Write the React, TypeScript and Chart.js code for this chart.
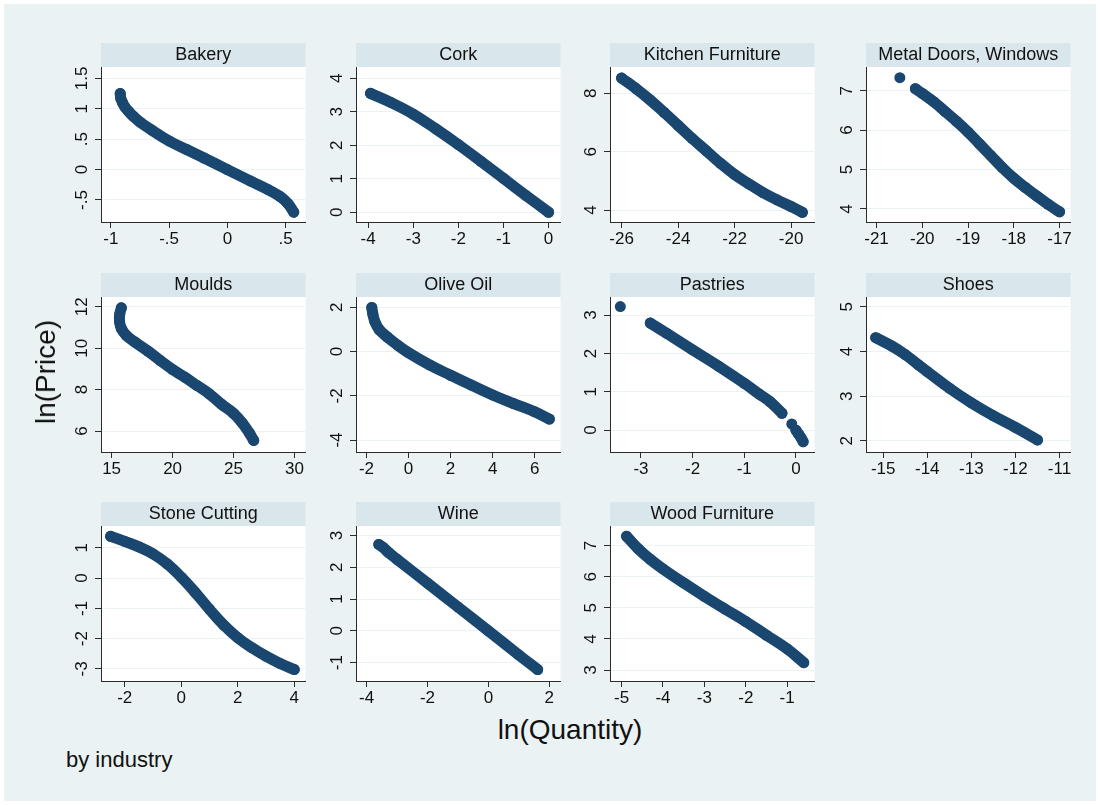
import React, { useEffect, useRef } from 'react';
import { Chart, registerables } from 'chart.js';

Chart.register(...registerables);

const FONT = "'Liberation Sans', Arial, Helvetica, sans-serif";
const NAVY = '#1A476F';
const STRIP_BG = '#D9E6EB';
const PAGE_BG = '#EAF2F3';
const AXIS = '#2b2b2b';

// ---------- data (ln Quantity = x, ln Price = y) ----------
const bakeryQ = [-0.92, -0.915, -0.9, -0.88, -0.85, -0.81, -0.75, -0.65, -0.5, -0.35, -0.2, 0, 0.2, 0.35, 0.45, 0.52, 0.57];
const bakeryP = [1.25, 1.17, 1.1, 1.03, 0.96, 0.88, 0.78, 0.65, 0.47, 0.33, 0.19, 0.0, -0.19, -0.33, -0.44, -0.56, -0.7];

const corkQ = [-3.95, -3.5, -3.0, -2.5, -2.0, -1.5, -1.0, -0.5, 0.0];
const corkP = [3.55, 3.28, 2.93, 2.49, 2.02, 1.52, 1.01, 0.5, 0.0];

const kitchenQ = [-26, -25.5, -25, -24.5, -24, -23.5, -23, -22.5, -22, -21.5, -21, -20.5, -20, -19.6];
const kitchenP = [8.52, 8.17, 7.78, 7.35, 6.9, 6.45, 6.03, 5.6, 5.22, 4.9, 4.6, 4.35, 4.12, 3.92];

const metalQ = [-20.15, -20, -19.75, -19.5, -19.25, -19, -18.75, -18.5, -18.25, -18, -17.75, -17.5, -17.25, -17];
const metalP = [7.05, 6.93, 6.72, 6.47, 6.22, 5.95, 5.65, 5.35, 5.05, 4.78, 4.55, 4.33, 4.12, 3.93];
const metalOutQ = [-20.49];
const metalOutP = [7.33];

const mouldsQ = [15.8, 15.66, 15.65, 15.8, 16.2, 16.9, 18, 19, 20, 21, 22, 23, 24, 25, 25.7, 26.3, 26.65];
const mouldsP = [11.95, 11.62, 11.28, 10.95, 10.62, 10.3, 9.85, 9.4, 8.97, 8.6, 8.2, 7.8, 7.3, 6.85, 6.4, 5.9, 5.55];

const oliveQ = [-1.75, -1.7, -1.6, -1.4, -1.0, -0.5, 0, 1, 2, 3, 4, 5, 6, 6.7];
const oliveP = [2.0, 1.7, 1.35, 1.0, 0.65, 0.28, -0.05, -0.6, -1.07, -1.52, -1.96, -2.35, -2.72, -3.05];

const pastriesQ = [-2.82, -2.5, -2.0, -1.5, -1.0, -0.7, -0.5, -0.27];
const pastriesP = [2.79, 2.52, 2.09, 1.67, 1.22, 0.93, 0.74, 0.44];
const pastriesOutQ = [-3.4, -0.08];
const pastriesOutP = [3.22, 0.16];
const pastriesTailQ = [0.0, 0.05, 0.1, 0.14];
const pastriesTailP = [0.0, -0.1, -0.2, -0.3];

const shoesQ = [-15.17, -14.8, -14.5, -14.2, -14, -13.5, -13, -12.5, -12, -11.5];
const shoesP = [4.31, 4.12, 3.93, 3.7, 3.55, 3.18, 2.85, 2.56, 2.3, 2.02];

const stoneQ = [-2.5, -2, -1.5, -1, -0.5, 0, 0.5, 1, 1.5, 2, 2.5, 3, 3.5, 4];
const stoneP = [1.38, 1.21, 1.03, 0.8, 0.47, 0.03, -0.48, -1.03, -1.55, -1.97, -2.3, -2.58, -2.82, -3.02];

const wineQ = [-3.6, -3.45, -3.3, -3, -2, -1, 0, 1, 1.62];
const wineP = [2.72, 2.62, 2.48, 2.25, 1.5, 0.75, 0, -0.76, -1.22];

const woodQ = [-4.88, -4.6, -4.3, -4, -3.5, -3, -2.5, -2, -1.5, -1, -0.6];
const woodP = [7.3, 6.9, 6.55, 6.25, 5.8, 5.37, 4.96, 4.56, 4.12, 3.68, 3.24];

// ---------- panel titles, ticks, ranges ----------
const titles = ['Bakery', 'Cork', 'Kitchen Furniture', 'Metal Doors, Windows', 'Moulds', 'Olive Oil', 'Pastries', 'Shoes', 'Stone Cutting', 'Wine', 'Wood Furniture'];

const xTicks = [
  [-1, -0.5, 0, 0.5], [-4, -3, -2, -1, 0], [-26, -24, -22, -20], [-21, -20, -19, -18, -17],
  [15, 20, 25, 30], [-2, 0, 2, 4, 6], [-3, -2, -1, 0], [-15, -14, -13, -12, -11],
  [-2, 0, 2, 4], [-4, -2, 0, 2], [-5, -4, -3, -2, -1],
];
const yTicks = [
  [-0.5, 0, 0.5, 1, 1.5], [0, 1, 2, 3, 4], [4, 6, 8], [4, 5, 6, 7],
  [6, 8, 10, 12], [-4, -2, 0, 2], [0, 1, 2, 3], [2, 3, 4, 5],
  [-3, -2, -1, 0, 1], [-1, 0, 1, 2, 3], [3, 4, 5, 6, 7],
];
const xRanges = [
  [-1.085, 0.671], [-4.27, 0.264], [-26.41, -19.17], [-21.23, -16.76],
  [14.13, 30.9], [-2.5, 7.23], [-3.6, 0.36], [-15.39, -10.75],
  [-2.84, 4.4], [-4.35, 2.37], [-5.28, -0.34],
];
const yRanges = [
  [-0.862, 1.686], [-0.29, 4.337], [3.59, 8.9], [3.67, 7.6],
  [4.99, 12.47], [-4.54, 2.47], [-0.57, 3.47], [1.75, 5.22],
  [-3.4, 1.72], [-1.58, 3.3], [2.65, 7.63],
];

type Series = { q: number[]; p: number[]; line: boolean };
const seriesList: Series[][] = [
  [{ q: bakeryQ, p: bakeryP, line: true }],
  [{ q: corkQ, p: corkP, line: true }],
  [{ q: kitchenQ, p: kitchenP, line: true }],
  [{ q: metalQ, p: metalP, line: true }, { q: metalOutQ, p: metalOutP, line: false }],
  [{ q: mouldsQ, p: mouldsP, line: true }],
  [{ q: oliveQ, p: oliveP, line: true }],
  [
    { q: pastriesQ, p: pastriesP, line: true },
    { q: pastriesOutQ, p: pastriesOutP, line: false },
    { q: pastriesTailQ, p: pastriesTailP, line: true },
  ],
  [{ q: shoesQ, p: shoesP, line: true }],
  [{ q: stoneQ, p: stoneP, line: true }],
  [{ q: wineQ, p: wineP, line: true }],
  [{ q: woodQ, p: woodP, line: true }],
];

// ---------- layout ----------
const colLeft = [101, 356, 610, 866];
const rowTop = [67, 297, 526];
const PLOT_W = 206;
const PLOT_H = 155;
const STRIP = 24;
const Y_AXIS_W = 45;
const X_AXIS_H = 32;
const RIGHT_PAD = 4;
const CANVAS_W = Y_AXIS_W + PLOT_W + RIGHT_PAD;
const CANVAS_H = STRIP + PLOT_H + X_AXIS_H;

const fmt = (v: number) => {
  const s = String(Math.round(v * 1000) / 1000);
  return s.replace(/^(-?)0\./, '$1.');
};

const decorPlugin = {
  id: 'panelDecor',
  beforeDraw(chart: any, _args: any, opts: any) {
    const { ctx, chartArea: a } = chart;
    ctx.save();
    ctx.fillStyle = '#ffffff';
    ctx.fillRect(a.left, a.top, a.right - a.left, a.bottom - a.top);
    ctx.fillStyle = STRIP_BG;
    ctx.fillRect(a.left, a.top - STRIP, a.right - a.left, STRIP);
    ctx.fillStyle = '#111';
    ctx.font = `18px ${FONT}`;
    ctx.textAlign = 'center';
    ctx.textBaseline = 'alphabetic';
    ctx.fillText(opts.title, (a.left + a.right) / 2, a.top - STRIP + 16.5);
    ctx.restore();
  },
  afterDraw(chart: any) {
    const { ctx, chartArea: a } = chart;
    const ys = chart.scales.y;
    ctx.save();
    ctx.fillStyle = '#111';
    ctx.font = `17px ${FONT}`;
    ctx.textAlign = 'center';
    ctx.textBaseline = 'alphabetic';
    ys.ticks.forEach((t: any) => {
      const y = ys.getPixelForValue(t.value);
      ctx.save();
      ctx.translate(a.left - 14, y);
      ctx.rotate(-Math.PI / 2);
      ctx.fillText(fmt(t.value), 0, 0);
      ctx.restore();
    });
    ctx.restore();
  },
};

function Panel({ idx }: { idx: number }) {
  const ref = useRef<HTMLCanvasElement>(null);
  const col = idx % 4;
  const row = Math.floor(idx / 4);
  useEffect(() => {
    const xt = xTicks[idx];
    const yt = yTicks[idx];
    const chart = new Chart(ref.current as HTMLCanvasElement, {
      type: 'scatter',
      data: {
        datasets: seriesList[idx].map((s) => ({
          data: s.q.map((x, i) => ({ x, y: s.p[i] })),
          showLine: s.line,
          borderColor: NAVY,
          backgroundColor: NAVY,
          borderWidth: 11,
          borderCapStyle: 'round',
          borderJoinStyle: 'round',
          tension: 0.4,
          pointRadius: 5.5,
          pointBorderWidth: 0,
          pointHoverRadius: 5.5,
          clip: 8,
        })),
      },
      options: {
        responsive: false,
        animation: false,
        devicePixelRatio: 1,
        events: [],
        layout: { padding: { top: STRIP, right: RIGHT_PAD, left: 0, bottom: 0 } },
        plugins: {
          legend: { display: false },
          tooltip: { enabled: false },
          title: { display: false },
          panelDecor: { title: titles[idx] },
        } as any,
        scales: {
          x: {
            type: 'linear',
            min: xRanges[idx][0],
            max: xRanges[idx][1],
            afterBuildTicks: (sc: any) => {
              sc.ticks = xt.map((v) => ({ value: v }));
            },
            afterFit: (sc: any) => {
              sc.height = X_AXIS_H;
            },
            ticks: {
              autoSkip: false,
              maxRotation: 0,
              minRotation: 0,
              padding: 1,
              color: '#111',
              font: { size: 17, family: FONT },
              callback: (v: any) => fmt(Number(v)),
            },
            grid: {
              drawOnChartArea: false,
              drawTicks: true,
              tickLength: 6,
              tickColor: AXIS,
              color: AXIS,
            },
            border: { display: true, color: AXIS, width: 1 },
          },
          y: {
            type: 'linear',
            min: yRanges[idx][0],
            max: yRanges[idx][1],
            afterBuildTicks: (sc: any) => {
              sc.ticks = yt.map((v) => ({ value: v }));
            },
            afterFit: (sc: any) => {
              sc.width = Y_AXIS_W;
            },
            ticks: { display: false },
            grid: {
              drawOnChartArea: true,
              drawTicks: true,
              tickLength: 6,
              tickColor: AXIS,
              color: PAGE_BG,
              lineWidth: 1,
            },
            border: { display: true, color: AXIS, width: 1 },
          },
        },
      } as any,
      plugins: [decorPlugin as any],
    });
    return () => chart.destroy();
  }, [idx]);
  return (
    <canvas
      ref={ref}
      width={CANVAS_W}
      height={CANVAS_H}
      style={{
        position: 'absolute',
        left: colLeft[col] - Y_AXIS_W,
        top: rowTop[row] - STRIP,
        width: CANVAS_W,
        height: CANVAS_H,
      }}
    />
  );
}

export default function App() {
  return (
    <div
      style={{
        position: 'absolute',
        left: 0,
        top: 0,
        width: 1100,
        height: 805,
        background: '#ffffff',
        overflow: 'hidden',
        fontFamily: FONT,
        color: '#111',
      }}
    >
      <div style={{ position: 'absolute', left: 4, top: 4, width: 1092, height: 797, background: PAGE_BG }} />
      {titles.map((_, i) => (
        <Panel key={i} idx={i} />
      ))}
      <div
        style={{
          position: 'absolute',
          left: 46,
          top: 372,
          transform: 'translate(-50%, -50%) rotate(-90deg)',
          fontSize: 28,
          lineHeight: '28px',
          whiteSpace: 'nowrap',
        }}
      >
        ln(Price)
      </div>
      <div
        style={{
          position: 'absolute',
          left: 570,
          top: 716,
          transform: 'translateX(-50%)',
          fontSize: 28,
          lineHeight: '28px',
          whiteSpace: 'nowrap',
        }}
      >
        ln(Quantity)
      </div>
      <div
        style={{
          position: 'absolute',
          left: 66,
          top: 749,
          fontSize: 22,
          lineHeight: '22px',
          whiteSpace: 'nowrap',
        }}
      >
        by industry
      </div>
    </div>
  );
}
